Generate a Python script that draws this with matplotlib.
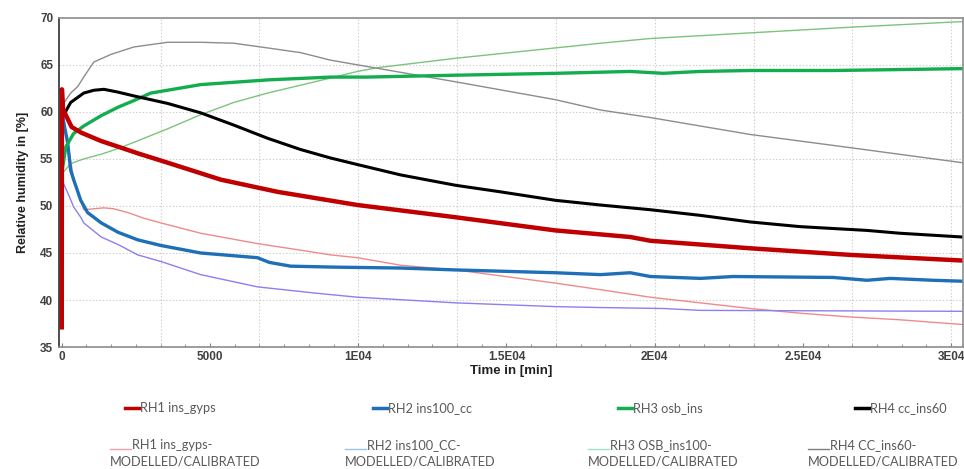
import matplotlib
matplotlib.use("Agg")
import matplotlib.pyplot as plt
from matplotlib.lines import Line2D
from matplotlib.ticker import FixedLocator, MultipleLocator

# measured series (time in min, RH in %)
t_rh1 = [0, 5, 40, 330, 650, 1330, 1900, 2560, 3570, 5360, 7280, 9975, 13280, 16650, 19175, 19850, 23220, 26590, 30370]
rh1 = [37.1, 62.4, 60.3, 58.4, 57.8, 56.9, 56.3, 55.6, 54.6, 52.8, 51.5, 50.1, 48.8, 47.4, 46.7, 46.3, 45.5, 44.8, 44.2]

t_rh2 = [0, 70, 200, 300, 400, 640, 870, 1330, 1900, 2560, 3340, 4685, 6600, 7000, 7720, 9160, 11430, 13280, 16650,
         18170, 19175, 19850, 21540, 22650, 26020, 27160, 27940, 29390, 30370]
rh2 = [60.2, 58.8, 56.7, 53.8, 52.8, 50.6, 49.3, 48.2, 47.2, 46.4, 45.8, 45.0, 44.5, 44.0, 43.6, 43.5, 43.4, 43.2, 42.9,
       42.7, 42.9, 42.5, 42.3, 42.5, 42.4, 42.1, 42.3, 42.1, 42.0]

t_rh3 = [0, 140, 400, 740, 1330, 1900, 2430, 3000, 4685, 6940, 9065, 10300, 13280, 16650, 19175, 20280, 21540,
         23220, 26020, 28270, 30370]
rh3 = [53.5, 56.3, 57.7, 58.5, 59.6, 60.5, 61.2, 62.0, 62.9, 63.4, 63.7, 63.7, 63.9, 64.1, 64.3, 64.1, 64.3,
       64.4, 64.4, 64.5, 64.6]

t_rh4 = [0, 300, 740, 1080, 1420, 1900, 2430, 3570, 4685, 5800, 6940, 8055, 9065, 9975, 11430, 13280, 14800,
         16650, 18170, 19175, 19850, 21540, 23220, 24910, 27160, 28270, 30370]
rh4 = [59.3, 61.0, 62.0, 62.3, 62.4, 62.1, 61.7, 60.9, 59.9, 58.6, 57.2, 56.0, 55.1, 54.4, 53.3, 52.2, 51.5,
       50.6, 50.1, 49.8, 49.6, 49.0, 48.3, 47.8, 47.4, 47.1, 46.7]

# modelled / calibrated series
t_m1 = [0, 150, 400, 740, 1080, 1420, 1750, 2230, 2760, 3340, 4685, 6600, 8055, 9065, 9975, 11430, 13280, 16650,
        18170, 19850, 21540, 23220, 24910, 26590, 28270, 30370]
m1 = [61.0, 57.5, 53.0, 49.6, 49.7, 49.8, 49.7, 49.3, 48.7, 48.2, 47.1, 46.0, 45.3, 44.8, 44.5, 43.7, 43.2, 41.8,
      41.1, 40.3, 39.7, 39.1, 38.6, 38.2, 37.9, 37.4]

t_m2 = [0, 200, 400, 640, 740, 1330, 1900, 2560, 3340, 4685, 6600, 8660, 9975, 13280, 16650, 18170, 20280,
        21540, 30370]
m2 = [52.8, 51.4, 49.9, 48.8, 48.2, 46.7, 45.9, 44.8, 44.1, 42.7, 41.4, 40.7, 40.3, 39.7, 39.3, 39.2, 39.1,
      38.9, 38.8]

t_m3 = [0, 300, 740, 1330, 1900, 2700, 3570, 4685, 5800, 6940, 9065, 9975, 10650, 13280, 16650, 18170,
        19850, 23220, 26590, 30370]
m3 = [53.4, 54.5, 55.0, 55.5, 56.1, 57.1, 58.2, 59.7, 61.0, 62.0, 63.6, 64.3, 64.7, 65.7, 66.8, 67.3,
      67.8, 68.4, 69.0, 69.6]

t_m4 = [0, 300, 540, 740, 1080, 1650, 2430, 3570, 4685, 5800, 6940, 8055, 9065, 9975, 13280, 16650, 18170,
        19850, 23220, 26590, 30370]
m4 = [60.6, 62.0, 62.7, 63.7, 65.3, 66.1, 66.9, 67.4, 67.4, 67.3, 66.8, 66.3, 65.5, 65.0, 63.2, 61.3, 60.2,
      59.4, 57.6, 56.2, 54.6]

xtick_vals = [0, 5000, 10000, 15000, 20000, 25000, 30000]
xtick_labels = ["0", "5000", "1E04", "1.5E04", "2E04", "2.5E04", "3E04"]
ytick_vals = [35, 40, 45, 50, 55, 60, 65, 70]

legend_top = ["RH1 ins_gyps", "RH2 ins100_cc", "RH3 osb_ins", "RH4 cc_ins60"]
legend_bottom = ["RH1 ins_gyps-", "RH2 ins100_CC-", "RH3 OSB_ins100-", "RH4 CC_ins60-"]
legend_bottom2 = "MODELLED/CALIBRATED"

plt.rcParams["font.family"] = ["Liberation Sans", "DejaVu Sans"]

fig = plt.figure(figsize=(9.64, 4.69), dpi=100)
ax = fig.add_axes([0.061, 0.260, 0.938, 0.702])

# modelled lines (thin) under measured
ax.plot(t_m1, m1, color="#f08a8a", lw=1.0)
ax.plot(t_m2, m2, color="#8a80f0", lw=1.0)
ax.plot(t_m3, m3, color="#7cc47c", lw=1.0)
ax.plot(t_m4, m4, color="#8c8c8c", lw=1.0)

ax.plot(t_rh2, rh2, color="#1d6fb8", lw=2.4)
ax.plot(t_rh3, rh3, color="#13ad4f", lw=2.4)
ax.plot(t_rh4, rh4, color="#000000", lw=2.2)
ax.plot(t_rh1, rh1, color="#c00000", lw=3.2)

ax.set_xlim(-100, 30400)
ax.set_ylim(35, 70)

# dotted grid
for k in range(1, 10):
    ax.axvline(k * 10000 / 3, color="#cccccc", lw=0.8, ls=(0, (1.2, 1.8)), zorder=0)
for y in ytick_vals[1:-1]:
    ax.axhline(y, color="#cccccc", lw=0.8, ls=(0, (1.2, 1.8)), zorder=0)

ax.xaxis.set_major_locator(FixedLocator(xtick_vals))
ax.set_xticklabels(xtick_labels)
ax.xaxis.set_minor_locator(MultipleLocator(10000 / 12))
ax.set_yticks(ytick_vals)
ax.tick_params(axis="both", which="both", direction="in", colors="#808080",
               labelcolor="#404040", labelsize=8.5)
ax.tick_params(axis="x", which="major", length=3, pad=3)
ax.tick_params(axis="x", which="minor", length=2)
ax.tick_params(axis="y", length=0, pad=4)
for lab in ax.get_xticklabels() + ax.get_yticklabels():
    lab.set_fontweight("bold")

for side in ["top", "right", "bottom"]:
    ax.spines[side].set_color("#8c8c8c")
    ax.spines[side].set_linewidth(1.2)
ax.spines["left"].set_color("#303030")
ax.spines["left"].set_linewidth(1.2)

ax.set_xlabel("Time in [min]", fontsize=9.5, fontweight="bold", color="#202020", labelpad=1)
ax.set_ylabel("Relative humidity in [%]", fontsize=9, fontweight="bold", color="#202020", labelpad=8)

# legend drawn by hand below the plot
top_colors = ["#c00000", "#1d6fb8", "#13ad4f", "#000000"]
bot_colors = ["#f4a0a8", "#9cc3e8", "#a0e0d0", "#808080"]
top_x = [125, 373, 618, 855]
bot_x = [110, 345, 588, 808]
W, H = 964.0, 469.0
lfont = dict(family="Lato", fontsize=9.2, color="#5a5a5a")
for i in range(4):
    y1 = 1 - 408 / H
    fig.add_artist(Line2D([top_x[i] / W, (top_x[i] + 14) / W], [y1, y1], color=top_colors[i], lw=2.5))
    fig.text((top_x[i] + 15) / W, y1, legend_top[i], va="center", ha="left", **lfont)

    yb = 1 - 449 / H
    fig.add_artist(Line2D([bot_x[i] / W, (bot_x[i] + 21) / W], [yb, yb], color=bot_colors[i], lw=1.0))
    fig.text((bot_x[i] + 22) / W, yb, legend_bottom[i], va="baseline", ha="left", **lfont)
    fig.text(bot_x[i] / W, 1 - 465 / H, legend_bottom2, va="baseline", ha="left", **lfont)

fig.savefig("out.png", dpi=100)
